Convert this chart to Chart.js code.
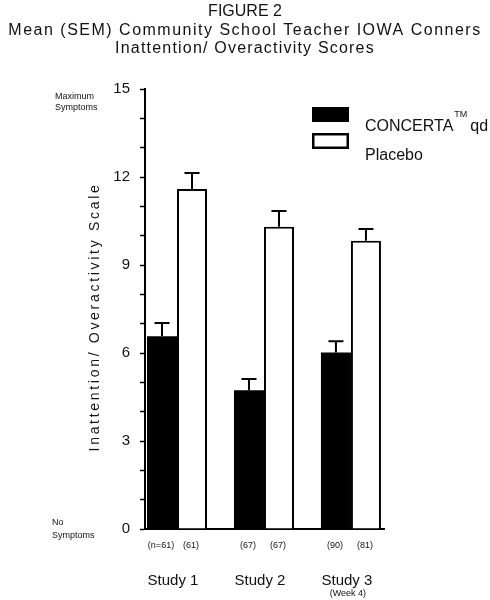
<!DOCTYPE html>
<html><head><meta charset="utf-8">
<script src="https://cdn.jsdelivr.net/npm/chart.js@4/dist/chart.umd.min.js"></script>
<style>html,body{margin:0;padding:0;background:#fff}</style>
</head><body>
<canvas id="c" width="490" height="600"></canvas>
<script>
// ---- data ----
const categories = ['Study 1', 'Study 2', 'Study 3'];
const categorySubLabels = ['', '', '(Week 4)'];
const seriesNames = ['CONCERTA', 'Placebo'];
const concertaMeans = [6.57, 4.73, 6.02];
const concertaSEM = [0.45, 0.38, 0.38];
const placeboMeans = [11.59, 10.30, 9.83];
const placeboSEM = [0.55, 0.54, 0.40];
const concertaN = ['(n=61)', '(67)', '(90)'];
const placeboN = ['(61)', '(67)', '(81)'];
const yMajorTicks = [0, 3, 6, 9, 12, 15];
const titleLines = ['FIGURE 2', 'Mean (SEM) Community School Teacher IOWA Conners', 'Inattention/ Overactivity Scores'];
const yAxisTitle = 'Inattention/ Overactivity Scale';
const topNote = ['Maximum', 'Symptoms'];
const bottomNote = ['No', 'Symptoms'];

const FONT = '"Liberation Sans", Arial, sans-serif';
const X_MIN = -0.368, X_MAX = 2.38;
const semByDataset = [concertaSEM, placeboSEM];
const nByDataset = [concertaN, placeboN];

const annotations = {
  id: 'annotations',
  afterDatasetsDraw(chart) {
    const ctx = chart.ctx, y = chart.scales.y;
    ctx.save();
    ctx.strokeStyle = '#000';
    ctx.lineWidth = 2;
    chart.data.datasets.forEach((ds, di) => {
      const meta = chart.getDatasetMeta(di);
      meta.data.forEach((el, i) => {
        const top = y.getPixelForValue(ds.data[i].y + semByDataset[di][i]);
        ctx.beginPath();
        ctx.moveTo(el.x, el.y);
        ctx.lineTo(el.x, top);
        ctx.moveTo(el.x - 7.5, top);
        ctx.lineTo(el.x + 7.5, top);
        ctx.stroke();
      });
    });
    ctx.restore();
  },
  afterDraw(chart) {
    const ctx = chart.ctx, y = chart.scales.y, x = chart.scales.x;
    ctx.save();
    ctx.fillStyle = '#111';
    // title
    ctx.textAlign = 'center';
    ctx.textBaseline = 'alphabetic';
    ctx.font = '16px ' + FONT;
    const spacings = ['0px', '1.5px', '1.2px'];
    const baselines = [16, 35, 53];
    titleLines.forEach((t, i) => {
      ctx.letterSpacing = spacings[i];
      ctx.fillText(t, 245, baselines[i]);
    });
    ctx.letterSpacing = '0px';
    // y axis title
    ctx.save();
    ctx.textBaseline = 'middle';
    ctx.translate(95, 317);
    ctx.rotate(-Math.PI / 2);
    ctx.letterSpacing = '2.7px';
    ctx.font = '14px ' + FONT;
    ctx.fillText(yAxisTitle, 0, 0);
    ctx.restore();
    ctx.letterSpacing = '0px';
    // side notes
    ctx.textBaseline = 'middle';
    ctx.textAlign = 'left';
    ctx.font = '9px ' + FONT;
    const yMax = y.getPixelForValue(15), y0 = y.getPixelForValue(0);
    ctx.fillText(topNote[0], 55, yMax + 8);
    ctx.fillText(topNote[1], 55, yMax + 19);
    ctx.fillText(bottomNote[0], 52, y0 - 6);
    ctx.fillText(bottomNote[1], 52, y0 + 7);
    // n labels
    ctx.textAlign = 'center';
    ctx.font = '9px ' + FONT;
    chart.data.datasets.forEach((ds, di) => {
      chart.getDatasetMeta(di).data.forEach((el, i) => {
        ctx.fillText(nByDataset[di][i], el.x - 1, 546);
      });
    });
    // category labels
    categories.forEach((c, i) => {
      const cx = x.getPixelForValue(i) - 4;
      ctx.font = '15px ' + FONT;
      ctx.fillText(c, cx, 581);
      if (categorySubLabels[i]) {
        ctx.font = '9px ' + FONT;
        ctx.fillText(categorySubLabels[i], cx + 1, 594);
      }
    });
    // legend
    const lx = 312, lw = 37;
    ctx.fillStyle = '#000';
    ctx.fillRect(lx, 107, lw, 15);
    ctx.strokeStyle = '#000';
    ctx.lineWidth = 2.5;
    ctx.fillStyle = '#fff';
    ctx.fillRect(lx + 1, 134, lw - 2, 13);
    ctx.strokeRect(lx + 1.25, 134.25, lw - 2.5, 13.5);
    ctx.fillStyle = '#111';
    ctx.textAlign = 'left';
    ctx.textBaseline = 'alphabetic';
    ctx.font = '16px ' + FONT;
    ctx.fillText(seriesNames[0], 365, 131);
    const w = ctx.measureText(seriesNames[0]).width;
    ctx.font = '9px ' + FONT;
    ctx.fillText('TM', 365 + w + 1, 117);
    ctx.font = '16px ' + FONT;
    ctx.fillText('qd', 365 + w + 17, 131);
    ctx.fillText(seriesNames[1], 365, 160);
    ctx.restore();
  }
};

new Chart(document.getElementById('c'), {
  type: 'bar',
  data: {
    datasets: [
      {
        label: seriesNames[0],
        data: concertaMeans.map((v, i) => ({ x: i, y: v })),
        backgroundColor: '#000',
        borderWidth: 0
      },
      {
        label: seriesNames[1],
        data: placeboMeans.map((v, i) => ({ x: i, y: v })),
        backgroundColor: '#fff',
        borderColor: '#000',
        borderWidth: 2
      }
    ]
  },
  options: {
    responsive: false,
    animation: false,
    devicePixelRatio: 1,
    layout: { padding: { top: 89, right: 106, bottom: 0, left: 0 } },
    categoryPercentage: 0.69,
    barPercentage: 1.0,
    plugins: { legend: { display: false }, tooltip: { enabled: false }, title: { display: false } },
    scales: {
      x: {
        type: 'linear',
        offset: false,
        bounds: 'data',
        min: X_MIN,
        max: X_MAX,
        afterDataLimits(s) { s.min = X_MIN; s.max = X_MAX; },
        afterBuildTicks(s) { s.ticks = categories.map((c, i) => ({ value: i })); },
        ticks: { display: false },
        grid: { display: true, offset: false, drawOnChartArea: false, drawTicks: false },
        border: { display: true, color: '#000', width: 2 },
        afterFit(s) { s.height = 71; }
      },
      y: {
        min: 0,
        max: 15,
        ticks: {
          stepSize: 1,
          padding: 10,
          color: '#111',
          font: { size: 15, family: FONT },
          callback: (v) => (yMajorTicks.includes(v) ? String(v) : '')
        },
        grid: { drawOnChartArea: false, tickLength: 5, color: '#000', tickWidth: 1.5 },
        border: { display: true, color: '#000', width: 2 },
        afterFit(s) { s.width = 145; }
      }
    }
  },
  plugins: [annotations]
});
</script>
</body></html>
